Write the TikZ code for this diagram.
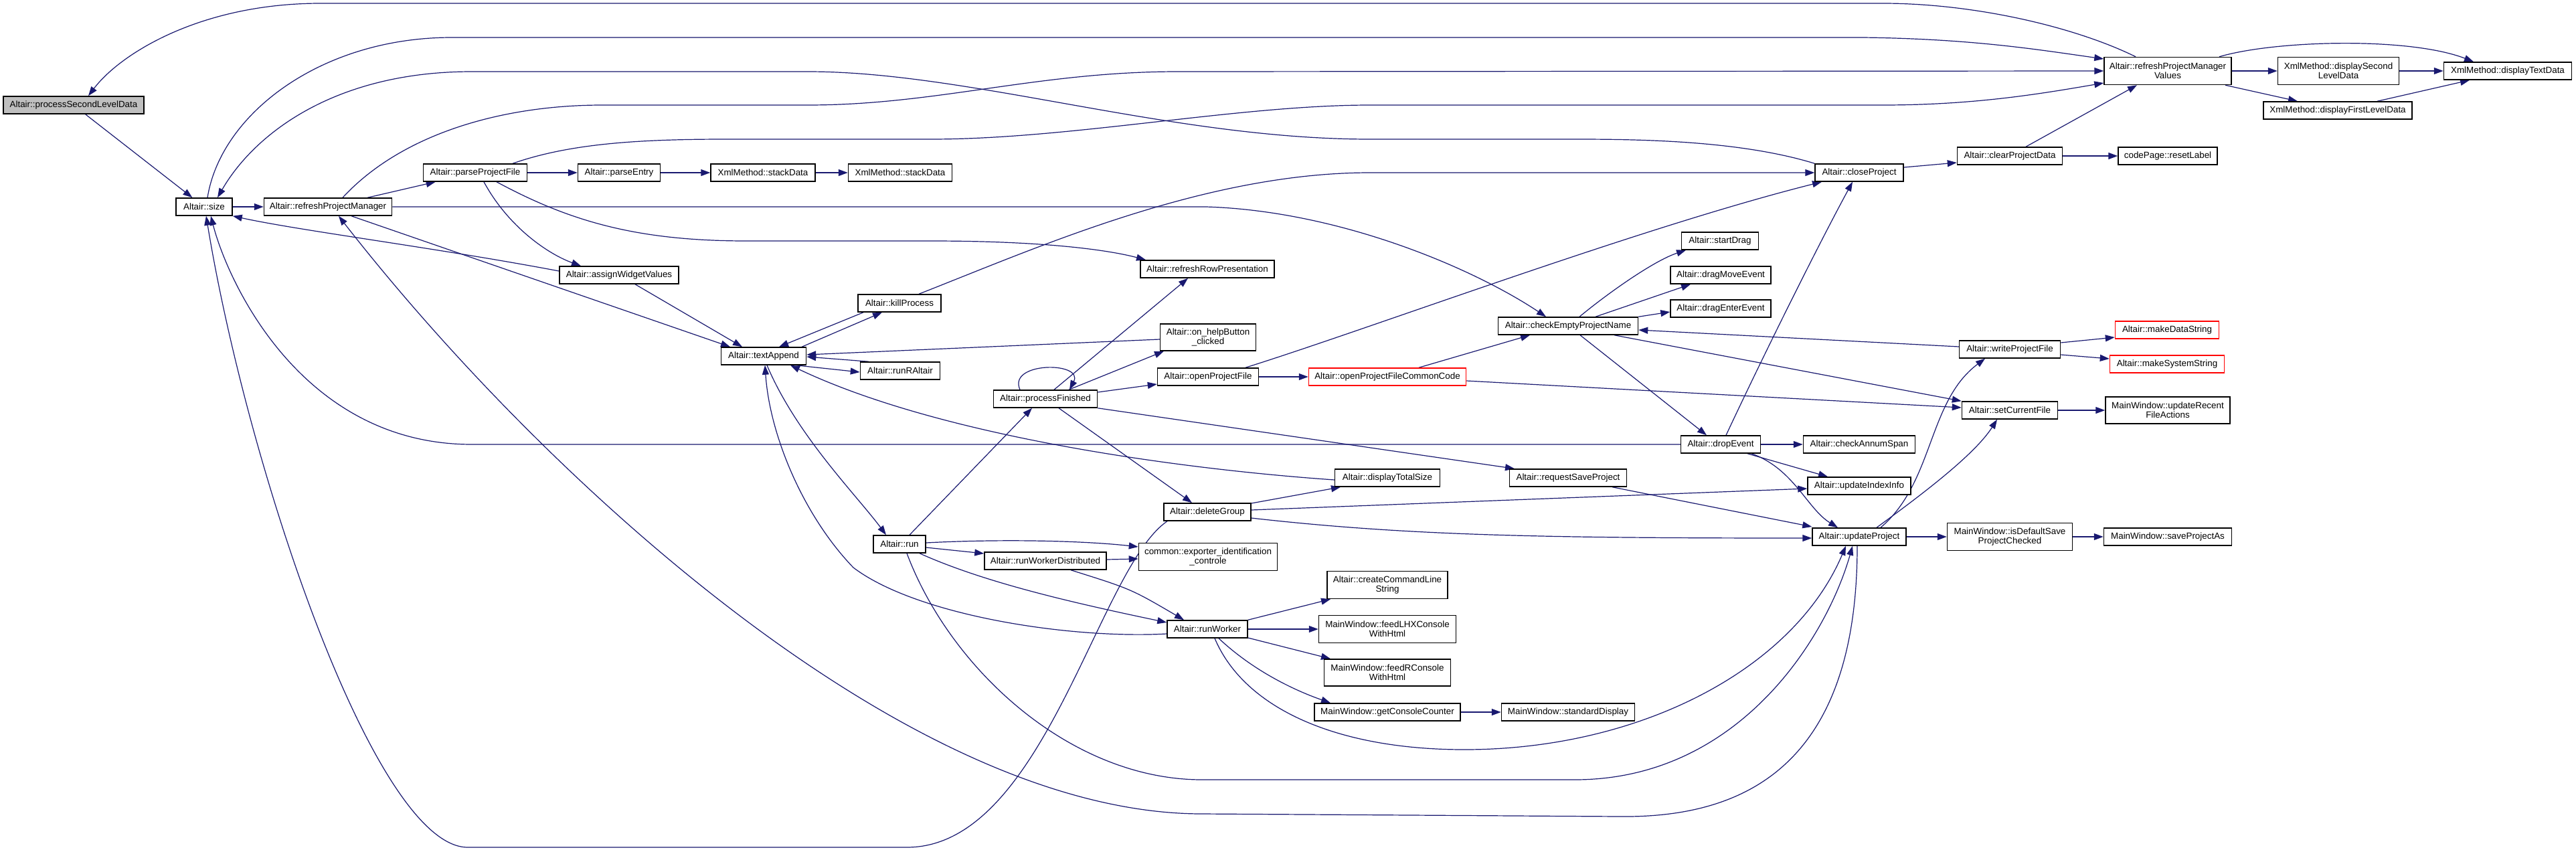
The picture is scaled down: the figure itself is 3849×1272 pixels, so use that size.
\documentclass[tikz,border=0pt]{standalone}
\usepackage{fontspec}
\setmainfont{Liberation Sans}
\usetikzlibrary{arrows.meta}
\pgfdeclarelayer{edgelayer}
\pgfsetlayers{edgelayer,main}
\definecolor{edgec}{HTML}{191970}
\definecolor{grayfill}{HTML}{BFBFBF}
\begin{document}
\begin{tikzpicture}[x=1pt,y=-1pt,
  box/.style={draw=black, line width=1.5pt, fill=white, inner sep=0pt, minimum height=26pt, font=\fontsize{13.4}{14}\selectfont, align=center},
  box2/.style={box, minimum height=41pt},
  redbox/.style={box, draw=red},
  edg/.style={draw=edgec, line width=1.2pt, -{Triangle[length=14pt,width=10pt]}}]
\useasboundingbox (0,0) rectangle (3849,1272);
% nodes
\node[box, fill=grayfill, minimum width=210pt] (psld) at (110,157) {Altair::processSecondLevelData};
\node[box, minimum width=84pt] (size) at (305,309) {Altair::size};
\node[box, minimum width=191pt] (rpm) at (490,309) {Altair::refreshProjectManager};
\node[box, minimum width=155pt] (ppf) at (710,258) {Altair::parseProjectFile};
\node[box, minimum width=123pt] (pe) at (925,258) {Altair::parseEntry};
\node[box, minimum width=178pt] (awv) at (925,411) {Altair::assignWidgetValues};
\node[box, minimum width=156pt] (sd1) at (1140,258) {XmlMethod::stackData};
\node[box, minimum width=155pt] (sd2) at (1345,258) {XmlMethod::stackData};
\node[box, minimum width=200pt] (rrp) at (1804,402) {Altair::refreshRowPresentation};
\node[box, minimum width=132pt] (cp) at (2778,258) {Altair::closeProject};
\node[box, minimum width=115pt] (sdrag) at (2570,360) {Altair::startDrag};
\node[box, minimum width=150pt] (dme) at (2571,411) {Altair::dragMoveEvent};
\node[box2, minimum width=190pt] (rpmv) at (3239,106) {Altair::refreshProjectManager\\Values};
\node[box2, minimum width=181pt] (dsld) at (3494,106) {XmlMethod::displaySecond\\LevelData};
\node[box, minimum width=191pt] (dtd) at (3747,106) {XmlMethod::displayTextData};
\node[box, minimum width=222pt] (dfld) at (3493,165) {XmlMethod::displayFirstLevelData};
\node[box, minimum width=157pt] (cpd) at (3003,233) {Altair::clearProjectData};
\node[box, minimum width=148pt] (rl) at (3239,233) {codePage::resetLabel};
\node[box, minimum width=124pt] (kp) at (1344,453) {Altair::killProcess};
\node[box, minimum width=127pt] (ta) at (1141,532) {Altair::textAppend};
\node[box, minimum width=119pt] (rra) at (1345,554) {Altair::runRAltair};
\node[box2, minimum width=143pt, minimum height=40pt] (ohb) at (1805,504) {Altair::on\_helpButton\\\_clicked};
\node[box, minimum width=151pt] (opf) at (1805,563) {Altair::openProjectFile};
\node[box, minimum width=155pt] (pf) at (1562,596) {Altair::processFinished};
\node[box, minimum width=130pt] (dg) at (1804,765) {Altair::deleteGroup};
\node[box, minimum width=78pt] (run) at (1344,813) {Altair::run};
\node[box2, minimum width=207pt] (exp) at (1805,832) {common::exporter\_identification\\\_controle};
\node[box, minimum width=182pt] (rwd) at (1562,838) {Altair::runWorkerDistributed};
\node[box, minimum width=209pt] (cepn) at (2343,487) {Altair::checkEmptyProjectName};
\node[box, minimum width=150pt] (dee) at (2571,461) {Altair::dragEnterEvent};
\node[redbox, minimum width=235pt] (opfcc) at (2073,563) {Altair::openProjectFileCommonCode};
\node[box, minimum width=119pt] (de) at (2571,664) {Altair::dropEvent};
\node[box, minimum width=167pt] (cas) at (2778,664) {Altair::checkAnnumSpan};
\node[box, minimum width=157pt] (dts) at (2073,714) {Altair::displayTotalSize};
\node[box, minimum width=175pt] (rsp) at (2343,714) {Altair::requestSaveProject};
\node[box, minimum width=154pt] (uii) at (2778,726) {Altair::updateIndexInfo};
\node[box, minimum width=140pt] (up) at (2778,802) {Altair::updateProject};
\node[box, minimum width=151pt] (wpf) at (3003,522) {Altair::writeProjectFile};
\node[redbox, minimum width=155pt] (mds) at (3238,493) {Altair::makeDataString};
\node[redbox, minimum width=171pt] (mss) at (3238,544) {Altair::makeSystemString};
\node[box, minimum width=143pt] (scf) at (3003,613) {Altair::setCurrentFile};
\node[box2, minimum width=186pt, minimum height=40pt] (urfa) at (3239,613) {MainWindow::updateRecent\\FileActions};
\node[box2, minimum width=187pt] (idsp) at (3003,802) {MainWindow::isDefaultSave\\ProjectChecked};
\node[box, minimum width=191pt] (spa) at (3239,802) {MainWindow::saveProjectAs};
\node[box, minimum width=120pt] (rw) at (1804,940) {Altair::runWorker};
\node[box2, minimum width=180pt] (ccls) at (2073,874) {Altair::createCommandLine\\String};
\node[box2, minimum width=205pt] (flhx) at (2073,940) {MainWindow::feedLHXConsole\\WithHtml};
\node[box2, minimum width=189pt, minimum height=40pt] (frc) at (2073,1005) {MainWindow::feedRConsole\\WithHtml};
\node[box, minimum width=218pt] (gcc) at (2073,1064) {MainWindow::getConsoleCounter};
\node[box, minimum width=199pt] (std) at (2343,1064) {MainWindow::standardDisplay};
% edges
\begin{pgfonlayer}{edgelayer}
\fill[white] (0,0) rectangle (3849,1272);
\draw[edg] (psld) -- (size);
\draw[edg] ([xshift=-48pt]rpmv.north) .. controls (3100,40) and (2950,5) .. (2813,5) -- (479,5) .. controls (300,5) and (180,80) .. ([xshift=22pt]psld.north);
\draw[edg] ([xshift=5pt]size.north) .. controls (330,170) and (480,56) .. (675,56) -- (2783,56) .. controls (2950,58) and (3050,75) .. ([yshift=18pt]rpmv.west);
\draw[edg] (cp.north west) .. controls (2600,210) and (2450,208) .. (2353,208) -- (2047,208) .. controls (1750,208) and (1450,107) .. (1207,107) -- (705,107) .. controls (500,107) and (380,200) .. ([xshift=20pt]size.north);
\draw[edg] (size) -- (rpm);
\draw[edg] ([xshift=22pt]rpm.north) .. controls (600,200) and (750,157) .. (900,157) -- (1207,157) .. controls (1400,157) and (1550,107) .. (1760,107) -- (rpmv.west);
\draw[edg] ([xshift=56pt]ppf.north) .. controls (850,215) and (950,208) .. (1085,208) -- (1391,208) .. controls (1600,208) and (1850,157) .. (2047,157) -- (2813,157) .. controls (2950,157) and (3050,140) .. ([yshift=-18pt]rpmv.west);
\draw[edg] (rpm) -- (ppf);
\draw[edg] (ppf) -- (pe);
\draw[edg] (pe) -- (sd1);
\draw[edg] (sd1) -- (sd2);
\draw[edg] (rpm.east) -- (1802,309) .. controls (2000,315) and (2200,400) .. ([xshift=-33pt]cepn.north);
\draw[edg] ([xshift=32pt]ppf.south) .. controls (850,330) and (950,360) .. (1115,360) -- (1391,360) .. controls (1550,360) and (1650,372) .. ([xshift=-92pt]rrp.north);
\draw[edg] ([xshift=13pt]ppf.south) .. controls (760,340) and (820,380) .. ([xshift=-57pt]awv.north);
\draw[edg] ([xshift=35pt]rpm.south) -- ([xshift=-50pt]ta.north);
\draw[edg] ([xshift=24pt]awv.south) -- ([xshift=-32pt]ta.north);
\draw[edg] ([yshift=6pt]awv.west) .. controls (650,370) and (450,345) .. (size.south east);
\draw[edg] ([xshift=-60pt]dg.south) .. controls (1640,850) and (1560,1266) .. (1355,1266) -- (699,1266) .. controls (560,1266) and (370,700) .. ([xshift=3pt]size.south);
\draw[edg] (de.west) -- (705,664) .. controls (450,664) and (340,420) .. ([xshift=10pt]size.south);
\draw[edg] ([xshift=-3pt]up.south) .. controls (2775,1150) and (2600,1222) .. (2420,1220) -- (1796,1216) .. controls (1350,1216) and (800,700) .. ([xshift=16pt]rpm.south);
\draw[edg] ([xshift=29pt]kp.north) .. controls (1550,370) and (1800,258) .. (2047,258) -- (cp.west);
\draw[edg] ([xshift=-54pt]kp.south) -- ([xshift=23pt]ta.north);
\draw[edg] ([xshift=57pt]ta.north) -- ([xshift=-26pt]kp.south);
\draw[edg] ([xshift=48pt]ta.south) -- ([yshift=-2pt]rra.west);
\draw[edg] ([xshift=-47pt]rra.north) -- ([yshift=-1pt]ta.east);
\draw[edg] ([yshift=-3pt]ohb.west) -- ([yshift=2pt]ta.east);
\draw[edg] ([xshift=35pt]pf.north) -- ([xshift=-66pt]ohb.south);
\draw[edg] ([xshift=-38pt]pf.north) .. controls (1505,540) and (1620,540) .. ([xshift=36pt]pf.north);
\draw[edg] ([yshift=10pt]pf.east) -- ([yshift=-11pt]opf.west);
\draw[edg] ([xshift=20pt]pf.south) -- ([xshift=-23pt]dg.north);
\draw[edg] (pf.south east) -- ([xshift=-80pt]rsp.north);
\draw[edg] ([xshift=13pt]pf.north) -- ([xshift=-29pt]rrp.south);
\draw[edg] ([xshift=5pt]ta.south) .. controls (1190,650) and (1280,740) .. ([xshift=-20pt]run.north);
\draw[edg] ([yshift=-7pt]rw.west) .. controls (1600,955) and (1370,920) .. (1275,848) .. controls (1200,770) and (1150,650) .. ([xshift=2pt]ta.south);
\draw[edg] ([yshift=-3pt]dts.west) .. controls (1750,700) and (1400,650) .. ([xshift=40pt]ta.south);
\draw[edg] ([xshift=15pt]run.north) -- ([xshift=-20pt]pf.south);
\draw[edg] ([yshift=2pt]run.east) .. controls (1500,805) and (1620,808) .. ([yshift=15pt]exp.west);
\draw[edg] ([yshift=-5pt]run.east) -- ([yshift=11pt]rwd.west);
\draw[edg] ([yshift=2pt]rwd.east) -- ([yshift=-3pt]exp.west);
\draw[edg] ([xshift=30pt]run.south) .. controls (1470,870) and (1600,900) .. ([yshift=10pt]rw.west);
\draw[edg] ([xshift=38pt]rwd.south) .. controls (1690,880) .. ([xshift=-35pt]rw.north);
\draw[edg] ([xshift=11pt]run.south) .. controls (1420,1000) and (1600,1165) .. (1796,1165) -- (2353,1165) .. controls (2600,1165) and (2730,950) .. ([xshift=-10pt]up.south);
\draw[edg] ([xshift=11pt]rw.south) .. controls (1860,1060) and (2000,1120) .. (2188,1120) .. controls (2450,1120) and (2680,1000) .. ([xshift=-20pt]up.south);
\draw[edg] ([yshift=13pt]dg.east) -- ([xshift=-70pt]dts.south);
\draw[edg] ([yshift=3pt]dg.east) -- ([yshift=-4pt]uii.west);
\draw[edg] ([yshift=-9pt]dg.east) .. controls (2100,800) and (2300,804) .. ([yshift=-2pt]up.west);
\draw[edg] ([xshift=66pt]rsp.south) -- ([yshift=15pt]up.west);
\draw[edg] (opf) -- (opfcc);
\draw[edg] ([xshift=56pt]opf.north) .. controls (2050,490) and (2450,340) .. ([xshift=-56pt]cp.south);
\draw[edg] ([xshift=47pt]opfcc.north) -- ([xshift=-57pt]cepn.south);
\draw[edg] ([yshift=-6pt]opfcc.east) -- ([yshift=4pt]scf.west);
\draw[edg] ([xshift=17pt]cepn.north) .. controls (2400,440) and (2470,390) .. ([xshift=-51pt]sdrag.south);
\draw[edg] ([xshift=41pt]cepn.north) -- ([xshift=-45pt]dme.south);
\draw[edg] (cepn.north east) -- ([yshift=-5pt]dee.west);
\draw[edg] ([xshift=18pt]cepn.south) -- ([xshift=-21pt]de.north);
\draw[edg] ([xshift=69pt]cepn.south) -- (scf.north west);
\draw[edg] ([yshift=4pt]wpf.west) -- ([yshift=-6pt]cepn.east);
\draw[edg] ([xshift=8pt]de.north) .. controls (2640,520) and (2720,360) .. ([xshift=-10pt]cp.south);
\draw[edg] (de) -- (cas);
\draw[edg] ([xshift=40pt]de.south) -- ([xshift=-47pt]uii.north);
\draw[edg] ([xshift=46pt]de.south) .. controls (2680,700) and (2700,760) .. ([xshift=-32pt]up.north);
\draw[edg] ([xshift=32pt]up.north) .. controls (2890,720) and (2880,600) .. ([xshift=-37pt]wpf.south);
\draw[edg] ([xshift=26pt]up.north) .. controls (2870,740) and (2950,680) .. ([xshift=-19pt]scf.south);
\draw[edg] (up) -- (idsp);
\draw[edg] (idsp) -- (spa);
\draw[edg] (scf) -- (urfa);
\draw[edg] ([yshift=10pt]wpf.east) -- ([yshift=-11pt]mds.west);
\draw[edg] ([yshift=-8pt]wpf.east) -- ([yshift=8pt]mss.west);
\draw[edg] (rw.north east) -- ([xshift=-85pt]ccls.south);
\draw[edg] (rw) -- (flhx);
\draw[edg] ([yshift=-13pt]rw.east) -- ([xshift=-85pt]frc.north);
\draw[edg] ([xshift=17pt]rw.south) .. controls (1870,1000) and (1930,1030) .. ([xshift=-85pt]gcc.north);
\draw[edg] (gcc) -- (std);
\draw[edg] (rpmv) -- (dsld);
\draw[edg] ([xshift=86pt]rpmv.south) -- ([xshift=-60pt]dfld.north);
\draw[edg] ([xshift=59pt]dfld.north) -- ([xshift=-57pt]dtd.south);
\draw[edg] ([xshift=77pt]rpmv.north) .. controls (3400,60) and (3600,55) .. ([xshift=-51pt]dtd.north);
\draw[edg] (dsld) -- (dtd);
\draw[edg] ([yshift=8pt]cp.east) -- ([yshift=-10pt]cpd.west);
\draw[edg] ([xshift=24pt]cpd.north) -- ([xshift=-46pt]rpmv.south);
\draw[edg] (cpd) -- (rl);
\end{pgfonlayer}
\end{tikzpicture}
\end{document}
